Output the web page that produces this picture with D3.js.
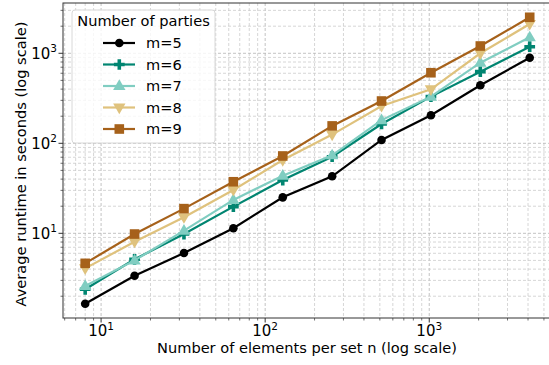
<!DOCTYPE html>
<html>
<head>
<meta charset="utf-8">
<script src="https://cdn.jsdelivr.net/npm/d3@7"></script>
<style>
  body { margin: 0; background: #fff; }
  text { font-family: "DejaVu Sans", sans-serif; }
</style>
</head>
<body>
<svg id="chart"></svg>
<script>
const sizes = [8, 16, 32, 64, 128, 256, 512, 1024, 2048, 4096];
const m5 = [1.65, 3.38, 6.04, 11.4, 25.1, 43.0, 109, 205, 441, 893];
const m6 = [2.39, 5.14, 9.82, 19.8, 39.1, 71, 164, 330, 625, 1183];
const m7 = [2.6, 5.0, 10.7, 23.5, 43.7, 73.6, 181, 330, 787, 1506];
const m8 = [4.08, 8.07, 15.1, 30.3, 65.2, 125, 260, 398, 1000, 2117];
const m9 = [4.64, 9.82, 18.8, 37.4, 72.3, 156, 295, 608, 1205, 2512];
const seriesNames = ["m=5", "m=6", "m=7", "m=8", "m=9"];
const seriesColors = ["#000000", "#018571", "#80cdc1", "#dfc27d", "#a6611a"];
const seriesMarkers = ["circle", "plus", "triangle", "down", "square"];
const xMajor = [10, 100, 1000];
const yMajor = [10, 100, 1000];

const W = 549, H = 365;
const pLeft = 63, pTop = 3, pRight = 552, pBottom = 318;

const svg = d3.select("#chart").attr("width", W).attr("height", H);

const x = d3.scaleLog().domain([5.86, 5600]).range([pLeft, pRight]);
const y = d3.scaleLog().domain([1.146, 3620]).range([pBottom, pTop]);

function minorTicks(scale) {
    let out = [];
    let [a, b] = scale.domain();
    for (let e = Math.floor(Math.log10(a)); e <= Math.ceil(Math.log10(b)); e++) {
        for (let k = 1; k < 10; k++) {
            let v = k * Math.pow(10, e);
            if (v >= a && v <= b) out.push(v);
        }
    }
    return out;
}

// grid (major + minor, dashed)
let grid = svg.append("g");
minorTicks(x).forEach(v => {
    let major = xMajor.includes(v);
    grid.append("line")
        .attr("x1", x(v)).attr("x2", x(v))
        .attr("y1", pTop).attr("y2", pBottom)
        .attr("stroke", major ? "#b4b4b4" : "#cccccc").attr("stroke-width", 0.8)
        .attr("stroke-dasharray", "3,2");
});
minorTicks(y).forEach(v => {
    let major = yMajor.includes(v);
    grid.append("line")
        .attr("x1", pLeft).attr("x2", pRight)
        .attr("y1", y(v)).attr("y2", y(v))
        .attr("stroke", major ? "#b4b4b4" : "#cccccc").attr("stroke-width", 0.8)
        .attr("stroke-dasharray", "3,2");
});

// axes ticks
let ax = svg.append("g");
minorTicks(x).forEach(v => {
    let major = xMajor.includes(v);
    ax.append("line")
        .attr("x1", x(v)).attr("x2", x(v))
        .attr("y1", pBottom).attr("y2", pBottom + (major ? 4.5 : 2.5))
        .attr("stroke", "#333").attr("stroke-width", major ? 1 : 0.7);
});
minorTicks(y).forEach(v => {
    let major = yMajor.includes(v);
    ax.append("line")
        .attr("x1", pLeft).attr("x2", pLeft - (major ? 4.5 : 2.5))
        .attr("y1", y(v)).attr("y2", y(v))
        .attr("stroke", "#333").attr("stroke-width", major ? 1 : 0.7);
});

function powLabel(g, tx, ty, exp, anchor) {
    let t = g.append("text")
        .attr("x", tx).attr("y", ty)
        .attr("text-anchor", anchor)
        .attr("font-size", 15).attr("fill", "#000");
    t.append("tspan").text("10");
    t.append("tspan").attr("dy", -6.5).attr("font-size", 10.5).text(exp);
}
xMajor.forEach(v => powLabel(ax, x(v), pBottom + 18, String(Math.log10(v)), "middle"));
yMajor.forEach(v => powLabel(ax, pLeft - 6, y(v) + 5.5, String(Math.log10(v)), "end"));

// frame
svg.append("rect")
    .attr("x", pLeft).attr("y", pTop)
    .attr("width", pRight - pLeft).attr("height", pBottom - pTop)
    .attr("fill", "none").attr("stroke", "#333").attr("stroke-width", 1);

// axis labels
svg.append("text")
    .attr("x", 307).attr("y", 353)
    .attr("text-anchor", "middle").attr("font-size", 14.6)
    .text("Number of elements per set n (log scale)");
svg.append("text")
    .attr("transform", "translate(26,164) rotate(-90)")
    .attr("text-anchor", "middle").attr("font-size", 14.6)
    .text("Average runtime in seconds (log scale)");

function drawMarker(g, type, cx, cy, color) {
    if (type === "circle") {
        g.append("circle").attr("cx", cx).attr("cy", cy).attr("r", 4.3).attr("fill", color);
    } else if (type === "square") {
        g.append("rect").attr("x", cx - 4.8).attr("y", cy - 4.8).attr("width", 9.6).attr("height", 9.6).attr("fill", color);
    } else if (type === "triangle") {
        g.append("path").attr("d", d3.symbol(d3.symbolTriangle, 66)()).attr("transform", "translate(" + cx + "," + (cy + 0.5) + ")").attr("fill", color);
    } else if (type === "down") {
        g.append("path").attr("d", d3.symbol(d3.symbolTriangle, 66)()).attr("transform", "translate(" + cx + "," + (cy - 0.5) + ") rotate(180)").attr("fill", color);
    } else if (type === "plus") {
        g.append("path").attr("d", d3.symbol(d3.symbolCross, 64)()).attr("transform", "translate(" + cx + "," + cy + ")").attr("fill", color);
    }
}

const allSeries = [m5, m6, m7, m8, m9];
const line = d3.line().x(d => x(d[0])).y(d => y(d[1]));
let plot = svg.append("g");
allSeries.forEach((vals, i) => {
    let pts = sizes.map((s, j) => [s, vals[j]]);
    plot.append("path")
        .datum(pts)
        .attr("d", line)
        .attr("fill", "none")
        .attr("stroke", seriesColors[i])
        .attr("stroke-width", 2.2);
    pts.forEach(p => drawMarker(plot, seriesMarkers[i], x(p[0]), y(p[1]), seriesColors[i]));
});

// legend
let lg = svg.append("g");
lg.append("rect")
    .attr("x", 72).attr("y", 10).attr("width", 143).attr("height", 133)
    .attr("rx", 3).attr("fill", "#fff").attr("fill-opacity", 0.8)
    .attr("stroke", "#d8d8d8").attr("stroke-width", 1);
lg.append("text").attr("x", 143.5).attr("y", 26).attr("text-anchor", "middle")
    .attr("font-size", 14.6).text("Number of parties");
seriesNames.forEach((name, i) => {
    let ly = 43 + i * 21.5;
    lg.append("line").attr("x1", 103).attr("x2", 135).attr("y1", ly).attr("y2", ly)
        .attr("stroke", seriesColors[i]).attr("stroke-width", 2.2);
    drawMarker(lg, seriesMarkers[i], 119.3, ly, seriesColors[i]);
    lg.append("text").attr("x", 146).attr("y", ly + 5.3).attr("font-size", 14.6).text(name);
});
</script>
</body>
</html>
